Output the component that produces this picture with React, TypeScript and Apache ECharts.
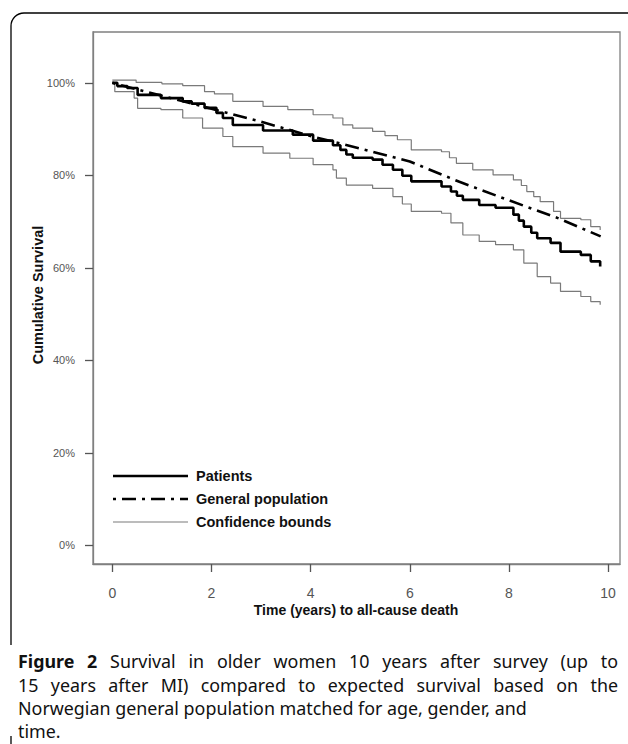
import React, { useEffect, useRef } from "react";
import * as echarts from "echarts";

// ---------- data ----------
const xTicks = [0, 2, 4, 6, 8, 10];
const yTicks = [0, 20, 40, 60, 80, 100];

const patientTimes = [0, 0.1, 0.3, 0.51, 0.98, 1.42, 1.6, 1.86, 2.1, 2.23, 2.43, 3.04, 3.64, 4.05, 4.45, 4.6, 4.72, 4.85, 5.25, 5.45, 5.66, 5.85, 6.03, 6.64, 6.83, 6.95, 7.07, 7.4, 7.73, 8.09, 8.2, 8.3, 8.45, 8.57, 8.84, 9.04, 9.45, 9.65, 9.84];
const patientSurvival = [100, 99.3, 98.9, 97.4, 96.7, 96.0, 95.5, 94.6, 93.5, 92.4, 90.9, 89.7, 88.8, 87.5, 86.5, 85.5, 84.5, 83.8, 83.4, 82.3, 81.2, 79.9, 78.7, 77.6, 76.5, 75.6, 74.7, 73.6, 73.0, 71.5, 70.2, 68.9, 67.6, 66.4, 65.4, 63.5, 62.8, 61.4, 60.3];

const upperTimes = [0, 0.48, 1.0, 1.42, 1.86, 2.06, 2.43, 3.04, 3.54, 4.05, 4.45, 4.65, 4.85, 5.25, 5.5, 5.75, 6.03, 6.64, 6.8, 6.94, 7.27, 7.68, 8.09, 8.25, 8.36, 8.5, 8.63, 8.9, 9.04, 9.45, 9.65, 9.84];
const upperSurvival = [100.6, 100.1, 99.8, 99.4, 98.1, 97.6, 96.0, 94.9, 94.2, 93.1, 92.4, 90.9, 90.2, 89.5, 88.6, 87.7, 85.5, 85.1, 83.8, 82.6, 81.2, 80.1, 79.0, 77.8, 76.5, 75.4, 74.3, 72.2, 70.7, 70.4, 68.9, 68.2];

const lowerTimes = [0, 0.05, 0.44, 0.51, 0.98, 1.42, 1.82, 2.23, 2.43, 3.04, 3.58, 4.05, 4.45, 4.52, 4.72, 5.25, 5.66, 5.85, 6.03, 6.64, 6.83, 7.07, 7.4, 7.73, 8.09, 8.3, 8.57, 8.84, 9.04, 9.45, 9.65, 9.84];
const lowerSurvival = [100, 98.1, 96.7, 94.5, 94.2, 92.4, 90.2, 88.4, 86.2, 84.8, 83.7, 82.3, 81.2, 79.4, 77.9, 77.2, 75.4, 73.8, 72.2, 71.8, 69.7, 67.1, 65.7, 65.0, 63.9, 61.0, 58.1, 56.7, 54.9, 53.8, 52.7, 52.0];

const populationTimes = [0, 1, 2, 3, 4, 5, 6, 7, 8, 9, 9.85];
const populationSurvival = [100, 97.2, 94.4, 91.6, 88.5, 85.8, 83.0, 78.6, 74.6, 70.7, 66.8];

const legendNames = ["Patients", "General population", "Confidence bounds"];
const xTitle = "Time (years) to all-cause death";
const yTitle = "Cumulative Survival";
const captionLines = [
  "Figure 2 Survival in older women 10 years after survey (up to",
  "15 years after MI) compared to expected survival based on the",
  "Norwegian general population matched for age, gender, and",
  "time.",
];
const captionJustified = [true, true, false, false];
const captionBoldWords = 2;

const zip = (xs: number[], ys: number[]) => xs.map((x, i) => [x, ys[i]]);

const AXIS_FONT = '"Liberation Sans", Arial, sans-serif';
const CAPTION_FONT = '"Noto Sans", "Open Sans", sans-serif';

export default function App() {
  const ref = useRef<HTMLDivElement>(null);

  useEffect(() => {
    if (!ref.current) return;
    const chart = echarts.init(ref.current, undefined, { renderer: "svg" });

    // --- caption layout (measure words for justified lines) ---
    const canvas = document.createElement("canvas");
    const ctx = canvas.getContext("2d") as CanvasRenderingContext2D;
    const measure = (t: string, size: number, bold: boolean) => {
      ctx.font = `${bold ? "bold " : ""}${size}px ${CAPTION_FONT}`;
      return ctx.measureText(t).width;
    };
    const capLeft = 18;
    const capRight = 618;
    const baseSize = 16;
    const capSize = (baseSize * 509) / measure(captionLines[2], baseSize, false);
    const capY = [661, 684.5, 708, 731];
    const captionEls: any[] = [];
    captionLines.forEach((line, li) => {
      const words = line.split(" ");
      const isBold = (wi: number) => li === 0 && wi < captionBoldWords;
      if (captionJustified[li]) {
        const widths = words.map((w, wi) => measure(w, capSize, isBold(wi)));
        const total = widths.reduce((a, b) => a + b, 0);
        const gap = (capRight - capLeft - total) / (words.length - 1);
        let x = capLeft;
        words.forEach((w, wi) => {
          captionEls.push({
            type: "text",
            x,
            y: capY[li],
            style: {
              text: w,
              fontFamily: CAPTION_FONT,
              fontSize: capSize,
              fontWeight: isBold(wi) ? "bold" : "normal",
              fill: "#111",
              verticalAlign: "middle",
              align: "left",
            },
          });
          x += widths[wi] + gap;
        });
      } else {
        captionEls.push({
          type: "text",
          x: capLeft,
          y: capY[li],
          style: {
            text: line,
            fontFamily: CAPTION_FONT,
            fontSize: capSize,
            fill: "#111",
            verticalAlign: "middle",
            align: "left",
          },
        });
      }
    });

    const legendY = [476, 499, 522];
    const legendStyles = [
      { stroke: "#000", lineWidth: 2.6 },
      { stroke: "#000", lineWidth: 2.6, lineDash: [3, 6, 14, 6] },
      { stroke: "#7a7a7a", lineWidth: 1.2 },
    ];
    const legendEls: any[] = [];
    legendNames.forEach((name, i) => {
      legendEls.push({
        type: "line",
        shape: { x1: 113, y1: legendY[i], x2: 188, y2: legendY[i] },
        style: legendStyles[i],
      });
      legendEls.push({
        type: "text",
        x: 196,
        y: legendY[i],
        style: {
          text: name,
          fontFamily: AXIS_FONT,
          fontSize: 14.5,
          fontWeight: "bold",
          fill: "#111",
          verticalAlign: "middle",
          align: "left",
        },
      });
    });

    const frameEls: any[] = [
      { type: "line", shape: { x1: 11, y1: 26, x2: 11, y2: 645 }, style: { stroke: "#000", lineWidth: 1.3 } },
      { type: "line", shape: { x1: 24, y1: 13, x2: 640, y2: 13 }, style: { stroke: "#000", lineWidth: 1.3 } },
      {
        type: "arc",
        shape: { cx: 24, cy: 26, r: 13, startAngle: Math.PI, endAngle: Math.PI * 1.5, clockwise: true },
        style: { stroke: "#000", lineWidth: 1.3, fill: "none" },
      },
      { type: "line", shape: { x1: 11, y1: 736, x2: 11, y2: 744 }, style: { stroke: "#000", lineWidth: 1.3 } },
    ];

    const titleEls: any[] = [
      {
        type: "text",
        x: 356,
        y: 610,
        style: {
          text: xTitle,
          fontFamily: AXIS_FONT,
          fontSize: 14,
          fontWeight: "bold",
          fill: "#111",
          align: "center",
          verticalAlign: "middle",
        },
      },
      {
        type: "text",
        x: 38,
        y: 295,
        rotation: Math.PI / 2,
        style: {
          text: yTitle,
          fontFamily: AXIS_FONT,
          fontSize: 14.5,
          fontWeight: "bold",
          fill: "#111",
          align: "center",
          verticalAlign: "middle",
        },
      },
    ];

    const lineSeries = (name: string, data: number[][], lineStyle: any, step: any) => ({
      name,
      type: "line",
      data,
      step,
      symbol: "none",
      showSymbol: false,
      lineStyle,
      silent: true,
    });

    const axisLine = { show: true, onZero: false, lineStyle: { color: "#808080", width: 1.3 } };

    chart.setOption({
      animation: false,
      backgroundColor: "#ffffff",
      grid: {
        left: 93,
        right: 8,
        top: 32,
        bottom: 180,
        show: true,
        borderColor: "#808080",
        borderWidth: 1.3,
        backgroundColor: "transparent",
      },
      xAxis: {
        type: "value",
        min: -0.39,
        max: 10.24,
        axisLine,
        splitLine: { show: false },
        axisTick: { show: true, customValues: xTicks, length: 8, lineStyle: { color: "#555", width: 1.3 } },
        axisLabel: { customValues: xTicks, fontSize: 14, color: "#555", margin: 22, fontFamily: AXIS_FONT },
      },
      yAxis: {
        type: "value",
        min: -4.05,
        max: 111,
        axisLine,
        splitLine: { show: false },
        axisTick: { show: true, customValues: yTicks, length: 8, lineStyle: { color: "#555", width: 1.3 } },
        axisLabel: {
          customValues: yTicks,
          formatter: "{value}%",
          fontSize: 11,
          color: "#555",
          margin: 18,
          fontFamily: AXIS_FONT,
        },
      },
      series: [
        lineSeries(legendNames[2], zip(upperTimes, upperSurvival), { color: "#7a7a7a", width: 1.2 }, "end"),
        lineSeries(legendNames[2], zip(lowerTimes, lowerSurvival), { color: "#7a7a7a", width: 1.2 }, "end"),
        lineSeries(legendNames[1], zip(populationTimes, populationSurvival), { color: "#000", width: 2.6, type: [3, 6, 14, 6] }, false),
        lineSeries(legendNames[0], zip(patientTimes, patientSurvival), { color: "#000", width: 2.6 }, "end"),
      ],
      graphic: [...frameEls, ...legendEls, ...titleEls, ...captionEls],
    });

    return () => chart.dispose();
  }, []);

  return (
    <div
      ref={ref}
      style={{ position: "fixed", left: 0, top: 0, width: 628, height: 744, background: "#fff" }}
    />
  );
}
